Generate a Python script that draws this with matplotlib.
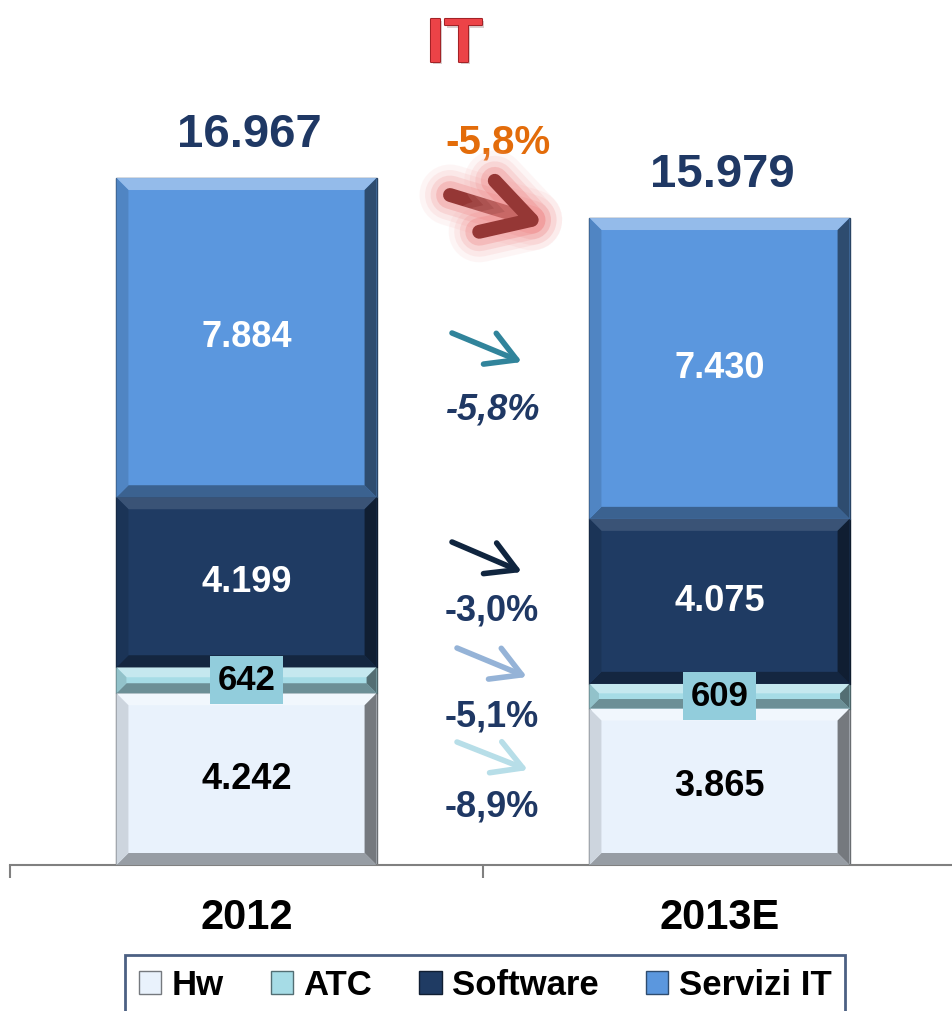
import matplotlib
matplotlib.use('Agg')
import matplotlib.pyplot as plt
import matplotlib.patheffects as pe
from matplotlib.patches import Polygon, Patch, FancyArrowPatch
from matplotlib.colors import to_rgb
import numpy as np

plt.rcParams['font.family'] = ['Liberation Sans', 'DejaVu Sans']

# dati (milioni di euro)
anni = ['2012', '2013E']
serie = ['Hw', 'ATC', 'Software', 'Servizi IT']
hw = [4242, 3865]
atc = [642, 609]
software = [4199, 4075]
servizi = [7884, 7430]
totali = [16967, 15979]
var_totale = '-5,8%'
var_serie = ['-8,9%', '-5,1%', '-3,0%', '-5,8%']  # Hw, ATC, Software, Servizi IT

colori = ['#E9F2FC', '#A6DCE6', '#1F3B63', '#5B97DE']
colori_testo = ['black', 'black', 'white', 'white']
colori_frecce = ['#B7DEE8', '#95B3D7', '#10253F', '#31849B']
navy = '#1F3864'


def mix(c, other, t):
    c = np.array(to_rgb(c))
    o = np.array(to_rgb(other))
    return tuple(c * (1 - t) + o * t)


def fmt(v):
    return '{:,}'.format(v).replace(',', '.')


W, H = 953, 1011
fig = plt.figure(figsize=(W / 100, H / 100), dpi=100)
ax = fig.add_axes([10 / W, 146 / H, 946 / W, 765 / H])
ax.set_xlim(-0.5, 1.5)
ax.set_ylim(0, 18894)

x = np.arange(len(anni))
larghezza = 0.55
valori = [hw, atc, software, servizi]
base = np.zeros(len(anni))

# pixel per unita' dati, per lo smusso dei rettangoli
px_x = ax.bbox.width / 2.0
px_y = ax.bbox.height / 18894

for i, (nome, vals) in enumerate(zip(serie, valori)):
    bars = ax.bar(x, vals, larghezza, bottom=base, color=colori[i],
                  edgecolor=mix(colori[i], 'black', 0.55), linewidth=1.0,
                  zorder=2, label=nome)
    luce = 0.35 if i != 2 else 0.12
    for b in bars:
        x0, y0 = b.get_x(), b.get_y()
        x1, y1 = x0 + b.get_width(), y0 + b.get_height()
        h_px = b.get_height() * px_y
        bev = min(12, h_px / 2.6)
        dx, dy = bev / px_x, bev / px_y
        facce = [
            ([(x0, y1), (x1, y1), (x1 - dx, y1 - dy), (x0 + dx, y1 - dy)], mix(colori[i], 'white', luce)),
            ([(x0, y0), (x1, y0), (x1 - dx, y0 + dy), (x0 + dx, y0 + dy)], mix(colori[i], 'black', 0.35)),
            ([(x0, y0), (x0, y1), (x0 + dx, y1 - dy), (x0 + dx, y0 + dy)], mix(colori[i], 'black', 0.12)),
            ([(x1, y0), (x1, y1), (x1 - dx, y1 - dy), (x1 - dx, y0 + dy)], mix(colori[i], 'black', 0.5)),
        ]
        for pts, c in facce:
            ax.add_patch(Polygon(pts, closed=True, facecolor=c, edgecolor='none', zorder=3))
    # etichette dei segmenti
    for j, v in enumerate(vals):
        yc = base[j] + v / 2
        if nome == 'ATC':
            ax.text(x[j], yc, fmt(v), ha='center', va='center', fontsize=25,
                    fontweight='bold', color='black', zorder=6,
                    bbox=dict(boxstyle='square,pad=0.22', facecolor='#92CDDC', edgecolor='none'))
        else:
            ax.text(x[j], yc, fmt(v), ha='center', va='center', fontsize=26,
                    fontweight='bold', color=colori_testo[i], zorder=6)
    base += np.array(vals)

# totali sopra le barre
for j, t in enumerate(totali):
    ax.annotate(fmt(t), (x[j], t), xytext=(2, 31), textcoords='offset points',
                ha='center', va='center', fontsize=34, fontweight='bold', color=navy)

# assi
for s in ['top', 'left', 'right']:
    ax.spines[s].set_visible(False)
ax.spines['bottom'].set_color('#808080')
ax.spines['bottom'].set_linewidth(1.5)
ax.set_yticks([])
ax.set_xticks(x)
ax.set_xticklabels(anni, fontsize=30, fontweight='bold')
ax.tick_params(axis='x', which='major', length=0, pad=24)
ax.set_xticks([-0.5, 0.5, 1.5], minor=True)
ax.tick_params(axis='x', which='minor', length=9, width=1.5, color='#808080', direction='out')

# titolo
fig.text(455 / W, 1 - 45 / H, 'IT', ha='center', va='center', fontsize=45,
         fontweight='bold', color='#EC4347',
         path_effects=[pe.SimplePatchShadow(offset=(1, -2), alpha=0.2),
                       pe.Stroke(linewidth=1.5, foreground='#A32226'), pe.Normal()])

# variazione totale con freccia
fig.text(498 / W, 1 - 142 / H, var_totale, ha='center', va='center',
         fontsize=29, fontweight='bold', color='#E36C0A')


def freccia(p0, p1, colore, lw, scala, glow=False):
    effetti = [pe.Normal()]
    if glow:
        effetti = [pe.Stroke(linewidth=lw + 34, foreground='#F6B3B3', alpha=0.12),
                   pe.Stroke(linewidth=lw + 26, foreground='#F4A0A0', alpha=0.15),
                   pe.Stroke(linewidth=lw + 18, foreground='#F08C8C', alpha=0.2),
                   pe.Stroke(linewidth=lw + 10, foreground='#EE8080', alpha=0.3),
                   pe.Normal()]
    fig.add_artist(FancyArrowPatch(
        (p0[0] / W, 1 - p0[1] / H), (p1[0] / W, 1 - p1[1] / H),
        transform=fig.transFigure,
        arrowstyle='->,head_length=0.7,head_width=0.4', mutation_scale=scala,
        color=colore, lw=lw, capstyle='round', joinstyle='round',
        shrinkA=0, shrinkB=0, path_effects=effetti, zorder=8))


freccia((450, 195), (545, 224), '#953735', 10, 48, glow=True)

# variazioni per segmento
frecce_pos = [((457, 742), (528, 770)), ((457, 648), (527, 677)),
              ((452, 542), (522, 572)), ((452, 333), (522, 362))]
testi_y = [807, 717, 611, 410]
for k in range(4):
    freccia(frecce_pos[k][0], frecce_pos[k][1], colori_frecce[k], 4, 30)
    fig.text(492 / W, 1 - testi_y[k] / H, var_serie[k], ha='center', va='center',
             fontsize=26, fontweight='bold', color=navy,
             style='italic' if k == 3 else 'normal')

# legenda
maniglie = [Patch(facecolor=colori[i], edgecolor=mix(colori[i], 'black', 0.5), label=serie[i])
            for i in range(4)]
leg = fig.legend(handles=maniglie, loc='upper center', bbox_to_anchor=(485 / W, 1 - 955 / H),
                 ncol=4, prop={'weight': 'bold', 'size': 25},
                 frameon=True, fancybox=False, handlelength=0.65, handleheight=0.65,
                 handletextpad=0.3, columnspacing=1.35, borderpad=0.4, borderaxespad=0)
leg.get_frame().set_edgecolor(navy)
leg.get_frame().set_linewidth(2)

fig.savefig('out.png', dpi=100)
